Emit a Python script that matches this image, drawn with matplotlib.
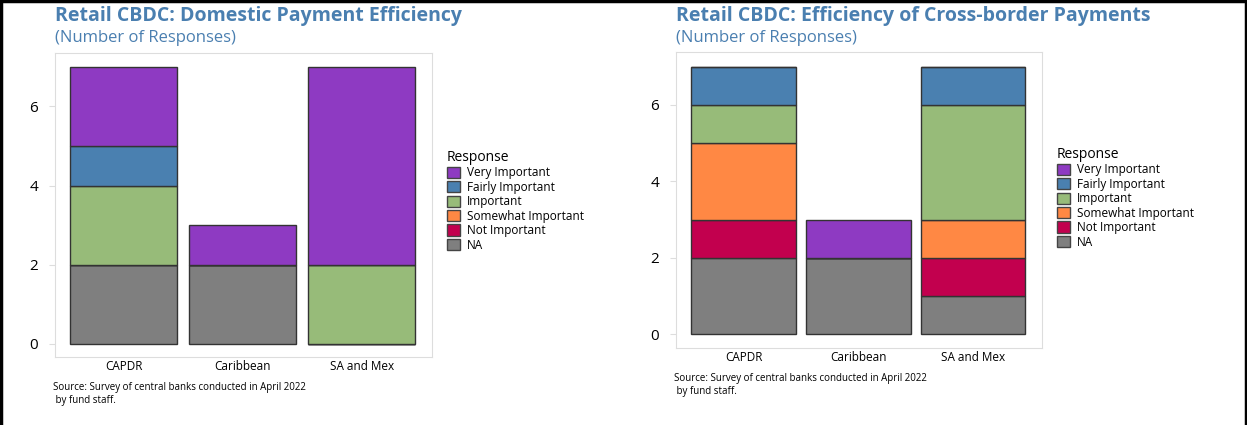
import matplotlib.pyplot as plt
from matplotlib.patches import Patch
from matplotlib.lines import Line2D

plt.rcParams['font.family'] = ['Open Sans', 'DejaVu Sans']

regions = ["CAPDR", "Caribbean", "SA and Mex"]
responses = ["NA", "Not Important", "Somewhat Important", "Important",
             "Fairly Important", "Very Important"]
colors = {"Very Important": "#8E3AC2", "Fairly Important": "#4A80B0",
          "Important": "#97BB79", "Somewhat Important": "#FF8844",
          "Not Important": "#C2004E", "NA": "#7F7F7F"}

# counts per response, order = regions
dom_na = [2, 2, 0]
dom_not = [0, 0, 0]
dom_some = [0, 0, 0]
dom_imp = [2, 0, 2]
dom_fair = [1, 0, 0]
dom_very = [2, 1, 5]

cb_na = [2, 2, 1]
cb_not = [1, 0, 1]
cb_some = [2, 0, 1]
cb_imp = [1, 0, 3]
cb_fair = [1, 0, 1]
cb_very = [0, 1, 0]

domestic = [dom_na, dom_not, dom_some, dom_imp, dom_fair, dom_very]
crossb = [cb_na, cb_not, cb_some, cb_imp, cb_fair, cb_very]

title_col = "#4A7FB0"
fig = plt.figure(figsize=(12.47, 4.25), dpi=100)
W, H = 1247, 425


def panel(box, data, title, tx, ty, leg_xy, width, ylim, xlim):
    l, t, r, b = box
    ax = fig.add_axes([l / W, 1 - b / H, (r - l) / W, (b - t) / H])
    bottom = [0, 0, 0]
    for resp, vals in zip(responses, data):
        ax.bar(range(3), vals, width, bottom=bottom, color=colors[resp],
               edgecolor="#333333", linewidth=1.0)
        bottom = [a + v for a, v in zip(bottom, vals)]
    ax.set_ylim(*ylim)
    ax.set_xlim(*xlim)
    ax.set_yticks([0, 2, 4, 6])
    ax.set_xticks(range(3))
    ax.set_xticklabels(regions, fontsize=8.5)
    ax.tick_params(axis='x', length=0, pad=2)
    ax.tick_params(axis='y', length=4, color="#DDDDDD", labelsize=11, pad=8)
    for s in ax.spines.values():
        s.set_color("#DDDDDD")
    fig.text(tx / W, 1 - ty / H, title, fontsize=14, fontweight='bold',
             color=title_col, va='center')
    fig.text(tx / W, 1 - (ty + 22) / H, "(Number of Responses)", fontsize=12,
             color=title_col, va='center')
    fig.text((tx - 2) / W, 1 - (b + 37) / H,
             "Source: Survey of central banks conducted in April 2022\n by fund staff.",
             fontsize=7, va='center', linespacing=1.15)
    handles = [Patch(facecolor=colors[r_], edgecolor="#444444", linewidth=1.0)
               for r_ in responses[::-1]]
    leg = fig.legend(handles, responses[::-1], title="Response",
                     loc='upper left', bbox_to_anchor=(leg_xy[0] / W, 1 - leg_xy[1] / H),
                     frameon=False, fontsize=8.5, title_fontsize=10,
                     handlelength=1.1, handleheight=1.1, handletextpad=0.6,
                     labelspacing=0.12, borderpad=0, borderaxespad=0)
    leg._legend_box.align = "left"
    return ax


panel((55, 53, 432, 357), domestic, "Retail CBDC: Domestic Payment Efficiency",
      55, 16, (447, 150), 0.9, (-0.33, 7.35), (-0.58, 2.59))
panel((676, 52, 1042, 348), crossb, "Retail CBDC: Efficiency of Cross-border Payments",
      676, 16, (1057, 147), 0.91, (-0.36, 7.38), (-0.59, 2.6))

# outer black border (left, top, right)
fig.add_artist(Line2D([0.001, 0.001], [0, 1], color='black', lw=2.5))
fig.add_artist(Line2D([0, 1], [0.997, 0.997], color='black', lw=2.5))
fig.add_artist(Line2D([0.999, 0.999], [0, 1], color='black', lw=2.5))

plt.savefig('out.png', dpi=100)
